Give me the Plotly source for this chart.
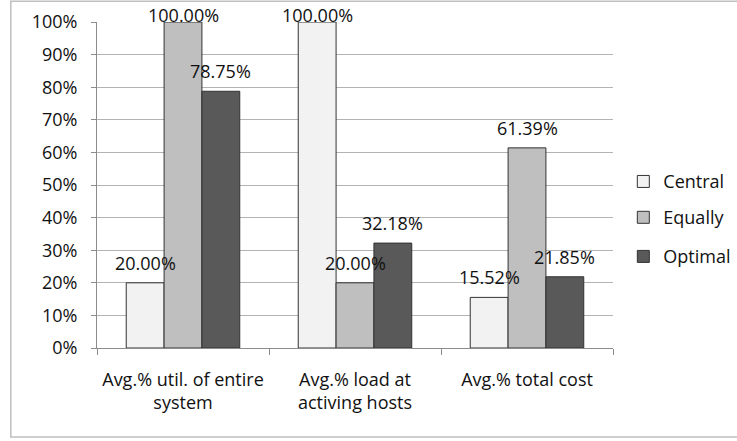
import plotly.graph_objects as go

categories = ["Avg.% util. of entire<br>system", "Avg.% load at<br>activing hosts", "Avg.% total cost"]
central = [20.00, 100.00, 15.52]
equally = [100.00, 20.00, 61.39]
optimal = [78.75, 32.18, 21.85]
y_ticks = list(range(0, 101, 10))

series = [("Central", central, "#f2f2f2"),
          ("Equally", equally, "#bfbfbf"),
          ("Optimal", optimal, "#595959")]

FONT = "'Open Sans', sans-serif"
FS = 18
TEXT = "#111111"

# plot-area geometry (pixels)
W, H = 737, 441
ML, MR, MT, MB = 97, 124, 22, 93
PH = H - MT - MB

BARGAP = 0.34
bar_w = (1 - BARGAP) / len(series)

fig = go.Figure()
annotations = []
legend_ys = [0.51, 0.40, 0.28]
for k, (name, vals, color) in enumerate(series):
    lg = "legend" if k == 0 else f"legend{k + 1}"
    fig.add_trace(go.Bar(
        name=name, x=categories, y=vals,
        marker=dict(color=color, line=dict(color="#333333", width=1)),
        legend=lg,
    ))
    off = (k - (len(series) - 1) / 2) * bar_w
    for i, v in enumerate(vals):
        top_px = MT + (100 - v) / 100 * PH
        centre_px = max(top_px - 20, 15)
        annotations.append(dict(
            x=i + off, y=v, xref="x", yref="y", text=f"{v:.2f}%",
            showarrow=False, yanchor="middle", yshift=top_px - centre_px,
            font=dict(family=FONT, size=FS, color=TEXT),
        ))

legend_common = dict(xanchor="left", yanchor="middle", x=1.02,
                     font=dict(family=FONT, size=FS, color=TEXT),
                     bgcolor="rgba(0,0,0,0)", itemwidth=30)

fig.update_layout(
    width=W, height=H,
    margin=dict(l=ML, r=MR, t=MT, b=MB, autoexpand=False),
    paper_bgcolor="white", plot_bgcolor="white",
    barmode="group", bargap=BARGAP, bargroupgap=0,
    font=dict(family=FONT, size=FS, color=TEXT),
    showlegend=True,
    legend=dict(y=legend_ys[0], **legend_common),
    legend2=dict(y=legend_ys[1], **legend_common),
    legend3=dict(y=legend_ys[2], **legend_common),
    annotations=annotations,
    shapes=[dict(type="rect", xref="paper", yref="paper",
                 x0=-0.167, x1=1.25, y0=-0.273, y1=1.064,
                 line=dict(color="#bfbfbf", width=1.5), fillcolor="rgba(0,0,0,0)",
                 layer="below")],
)
fig.update_yaxes(range=[0, 100], tickvals=y_ticks, ticktext=[f"{t}%" for t in y_ticks],
                 showgrid=True, gridcolor="#b3b3b3", gridwidth=1,
                 showline=True, linecolor="#8c8c8c", ticks="outside", ticklen=5,
                 tickcolor="#8c8c8c", zeroline=False, ticklabelstandoff=10,
                 tickfont=dict(family=FONT, size=FS, color=TEXT))
fig.update_xaxes(showline=True, linecolor="#8c8c8c", ticks="outside", ticklen=6,
                 tickcolor="#8c8c8c", tickson="boundaries", showgrid=False,
                 ticklabelstandoff=15,
                 tickfont=dict(family=FONT, size=FS, color=TEXT))

fig.write_html("out.html")
